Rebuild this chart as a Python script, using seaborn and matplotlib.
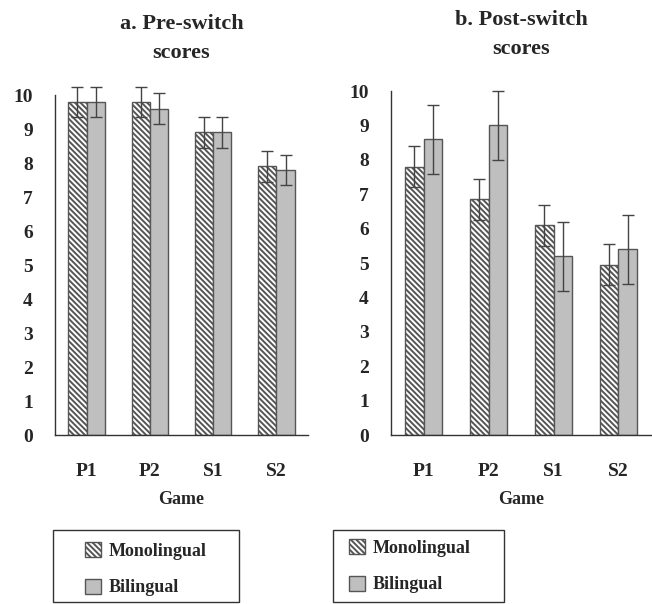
import matplotlib
matplotlib.use("Agg")
import matplotlib.pyplot as plt
import seaborn as sns
import pandas as pd
from matplotlib.patches import Patch, Rectangle

# data
games = ["P1", "P2", "S1", "S2"]
groups = ["Monolingual", "Bilingual"]
pre_mono = [9.8, 9.8, 8.9, 7.9]
pre_bi = [9.8, 9.6, 8.9, 7.8]
pre_mono_err = [0.45, 0.45, 0.45, 0.45]
pre_bi_err = [0.45, 0.45, 0.45, 0.45]
post_mono = [7.8, 6.85, 6.1, 4.95]
post_bi = [8.6, 9.0, 5.2, 5.4]
post_mono_err = [0.6, 0.6, 0.6, 0.6]
post_bi_err = [1.0, 1.0, 1.0, 1.0]

sns.set_style("white")
plt.rcParams["font.family"] = ["Liberation Serif", "DejaVu Serif"]
plt.rcParams["font.weight"] = "bold"
plt.rcParams["hatch.linewidth"] = 1.4
plt.rcParams["hatch.color"] = "#222222"

gray = "#bfbfbf"
edge = "#555555"
hatch = "\\" * 6

fig = plt.figure(figsize=(6.52, 6.04), dpi=100)
W, H = 652, 604
ax1 = fig.add_axes([55 / W, (H - 435) / H, (308 - 55) / W, (435 - 95) / H])
ax2 = fig.add_axes([391 / W, (H - 435) / H, (651 - 391) / W, (435 - 91) / H])


def panel(ax, mono, bi, mono_err, bi_err, title):
    df = pd.DataFrame({
        "Game": games * 2,
        "Group": [groups[0]] * 4 + [groups[1]] * 4,
        "Score": mono + bi,
    })
    sns.barplot(data=df, x="Game", y="Score", hue="Group", hue_order=groups,
                palette=["white", gray], width=0.58, edgecolor=edge,
                linewidth=1.0, errorbar=None, legend=False, ax=ax)
    bars = ax.patches[:8]
    errs = mono_err + bi_err
    for i, p in enumerate(bars):
        if i < 4:
            p.set_hatch(hatch)
        cx = p.get_x() + p.get_width() / 2
        eb = ax.errorbar(cx, p.get_height(), yerr=errs[i], color="#444444",
                         capsize=4, elinewidth=1.0, capthick=1.0)
        for art in eb.lines[1] + eb.lines[2]:
            art.set_clip_on(False)
    ax.set_ylim(0, 10)
    ax.set_xlim(-0.5, 3.5)
    ax.set_yticks(range(11))
    ax.set_yticklabels([str(v) for v in range(11)], fontsize=14, fontweight="bold")
    ax.set_xticks(range(4))
    ax.set_xticklabels(games, fontsize=14, fontweight="bold")
    ax.set_xticks([-0.5, 0.5, 1.5, 2.5, 3.5], minor=True)
    ax.tick_params(axis="x", which="major", length=0, pad=20)
    ax.tick_params(axis="x", which="minor", length=8, width=1, direction="out", color="#333333")
    ax.tick_params(axis="y", length=7, width=1, direction="out", color="#333333", pad=9)
    for s in ["top", "right"]:
        ax.spines[s].set_visible(False)
    for s in ["left", "bottom"]:
        ax.spines[s].set_color("#333333")
        ax.spines[s].set_linewidth(1.0)
    ax.set_xlabel("Game", fontsize=13, fontweight="bold", labelpad=8)
    ax.set_ylabel("")
    ax.set_title(title, fontsize=16, fontweight="bold", pad=27, linespacing=1.55)


panel(ax1, pre_mono, pre_bi, pre_mono_err, pre_bi_err, "a. Pre-switch\nscores")
panel(ax2, post_mono, post_bi, post_mono_err, post_bi_err, "b. Post-switch\nscores")

handles = [Patch(facecolor="white", edgecolor=edge, hatch=hatch, label="Monolingual"),
           Patch(facecolor=gray, edgecolor=edge, label="Bilingual")]
# legend boxes: (box left, box right, content left, first row top)
for bx0, bx1, cx0, top in [(53, 239, 85, 542), (333, 504, 349, 539)]:
    fig.patches.append(Rectangle((bx0 / W, 1 - 602 / H), (bx1 - bx0) / W, (602 - 530) / H,
                                 transform=fig.transFigure, fill=False,
                                 edgecolor="#333333", linewidth=1.0))
    fig.legend(handles=handles, loc="upper left",
               bbox_to_anchor=(cx0 / W, 1 - top / H),
               prop={"family": ["Liberation Serif"], "weight": "bold", "size": 13},
               frameon=False, handlelength=0.9, handleheight=0.9,
               handletextpad=0.4, labelspacing=1.05, borderpad=0, borderaxespad=0)

fig.savefig("out.png", dpi=100)
